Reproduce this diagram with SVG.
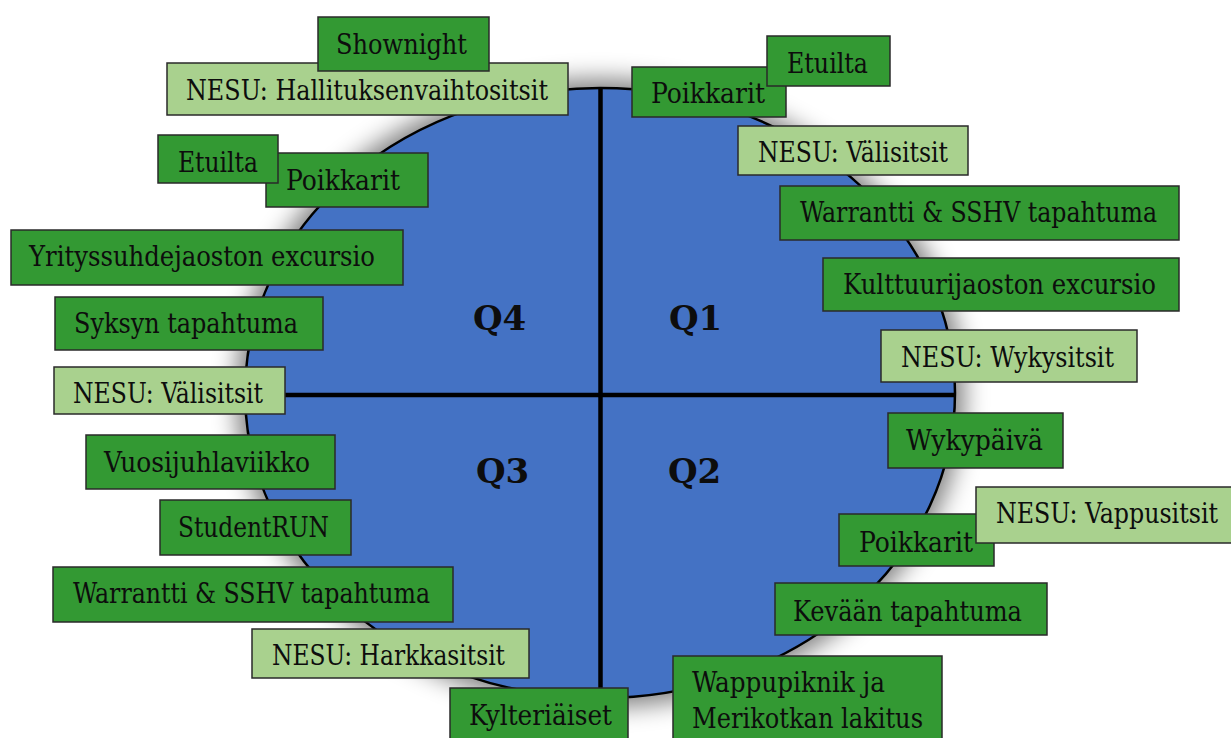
<svg xmlns="http://www.w3.org/2000/svg" width="1231" height="738" viewBox="0 0 1231 738">
<style>
.b{stroke:#2a2a2a;stroke-width:1.5}
.d{fill:#339933}
.l{fill:#a9d18e}
text{font-family:"DejaVu Serif Condensed","DejaVu Serif","Liberation Serif",serif;font-size:27px;fill:#0d0d0d}
.q{font-family:"DejaVu Serif","Liberation Serif",serif;font-weight:bold;font-size:34px}
</style>
<defs>
<filter id="sh" x="-20%" y="-20%" width="140%" height="140%"><feGaussianBlur stdDeviation="12"/></filter>
</defs>
<rect width="1231" height="738" fill="#fff"/>
<g id="circle">
<ellipse cx="600" cy="393" rx="364" ry="314" fill="#000" opacity="0.5" filter="url(#sh)"/>
<ellipse cx="600" cy="393" rx="355" ry="305" fill="#4472c4" stroke="#000" stroke-width="2.5"/>
</g>
<g id="axes" stroke="#000" stroke-width="4.5">
<line x1="600.5" y1="88" x2="600.5" y2="698"/>
<line x1="245" y1="395" x2="955" y2="395"/>
</g>
<g id="quarters">
<text class="q" x="473" y="330">Q4</text>
<text class="q" x="669" y="330">Q1</text>
<text class="q" x="476" y="483">Q3</text>
<text class="q" x="668" y="483">Q2</text>
</g>
<g id="n-hallitus"><rect class="b l" x="167" y="63" width="401" height="52"/><text x="186" y="100" textLength="362" lengthAdjust="spacingAndGlyphs">NESU: Hallituksenvaihtositsit</text></g>
<g id="n-shownight"><rect class="b d" x="318" y="17" width="171" height="54"/><text x="336" y="54" textLength="131" lengthAdjust="spacingAndGlyphs">Shownight</text></g>
<g id="n-poikkarit-q4"><rect class="b d" x="266" y="153" width="162" height="54"/><text x="286" y="190" textLength="114" lengthAdjust="spacingAndGlyphs">Poikkarit</text></g>
<g id="n-etuilta-q4"><rect class="b d" x="158" y="135" width="120" height="48"/><text x="178" y="172" textLength="80" lengthAdjust="spacingAndGlyphs">Etuilta</text></g>
<g id="n-yrityssuhde"><rect class="b d" x="11" y="230" width="392" height="55"/><text x="29" y="266" textLength="346" lengthAdjust="spacingAndGlyphs">Yrityssuhdejaoston excursio</text></g>
<g id="n-syksyn"><rect class="b d" x="55" y="297" width="268" height="53"/><text x="74" y="333" textLength="224" lengthAdjust="spacingAndGlyphs">Syksyn tapahtuma</text></g>
<g id="n-valisitsit-q4"><rect class="b l" x="54" y="367" width="231" height="47"/><text x="73" y="403" textLength="190" lengthAdjust="spacingAndGlyphs">NESU: Välisitsit</text></g>
<g id="n-poikkarit-q1"><rect class="b d" x="632" y="67" width="154" height="50"/><text x="651" y="103" textLength="114" lengthAdjust="spacingAndGlyphs">Poikkarit</text></g>
<g id="n-etuilta-q1"><rect class="b d" x="767" y="36" width="123" height="50"/><text x="787" y="73" textLength="81" lengthAdjust="spacingAndGlyphs">Etuilta</text></g>
<g id="n-valisitsit-q1"><rect class="b l" x="738" y="126" width="230" height="49"/><text x="758" y="162" textLength="190" lengthAdjust="spacingAndGlyphs">NESU: Välisitsit</text></g>
<g id="n-warrantti-q1"><rect class="b d" x="780" y="186" width="399" height="54"/><text x="800" y="222" textLength="357" lengthAdjust="spacingAndGlyphs">Warrantti &amp; SSHV tapahtuma</text></g>
<g id="n-kulttuuri"><rect class="b d" x="823" y="258" width="356" height="53"/><text x="843" y="294" textLength="313" lengthAdjust="spacingAndGlyphs">Kulttuurijaoston excursio</text></g>
<g id="n-wykysitsit"><rect class="b l" x="881" y="330" width="256" height="52"/><text x="901" y="367" textLength="213" lengthAdjust="spacingAndGlyphs">NESU: Wykysitsit</text></g>
<g id="n-wykypaiva"><rect class="b d" x="888" y="413" width="175" height="55"/><text x="906" y="450" textLength="137" lengthAdjust="spacingAndGlyphs">Wykypäivä</text></g>
<g id="n-poikkarit-q2"><rect class="b d" x="839" y="514" width="155" height="52"/><text x="859" y="552" textLength="114" lengthAdjust="spacingAndGlyphs">Poikkarit</text></g>
<g id="n-vappusitsit"><rect class="b l" x="976" y="487" width="256" height="56"/><text x="996" y="523" textLength="222" lengthAdjust="spacingAndGlyphs">NESU: Vappusitsit</text></g>
<g id="n-kevaan"><rect class="b d" x="775" y="583" width="272" height="52"/><text x="793" y="621" textLength="229" lengthAdjust="spacingAndGlyphs">Kevään tapahtuma</text></g>
<g id="n-wappupiknik"><rect class="b d" x="673" y="656" width="269" height="90"/><text x="692" y="692" textLength="193" lengthAdjust="spacingAndGlyphs">Wappupiknik ja</text><text x="692" y="728" textLength="231" lengthAdjust="spacingAndGlyphs">Merikotkan lakitus</text></g>
<g id="n-vuosijuhla"><rect class="b d" x="86" y="435" width="249" height="54"/><text x="104" y="472" textLength="206" lengthAdjust="spacingAndGlyphs">Vuosijuhlaviikko</text></g>
<g id="n-studentrun"><rect class="b d" x="160" y="500" width="191" height="55"/><text x="178" y="537" textLength="151" lengthAdjust="spacingAndGlyphs">StudentRUN</text></g>
<g id="n-warrantti-q3"><rect class="b d" x="53" y="567" width="400" height="55"/><text x="73" y="603" textLength="357" lengthAdjust="spacingAndGlyphs">Warrantti &amp; SSHV tapahtuma</text></g>
<g id="n-harkkasitsit"><rect class="b l" x="252" y="629" width="277" height="49"/><text x="272" y="665" textLength="233" lengthAdjust="spacingAndGlyphs">NESU: Harkkasitsit</text></g>
<g id="n-kylteriaiset"><rect class="b d" x="450" y="688" width="178" height="60"/><text x="469" y="725" textLength="143" lengthAdjust="spacingAndGlyphs">Kylteriäiset</text></g>
</svg>
